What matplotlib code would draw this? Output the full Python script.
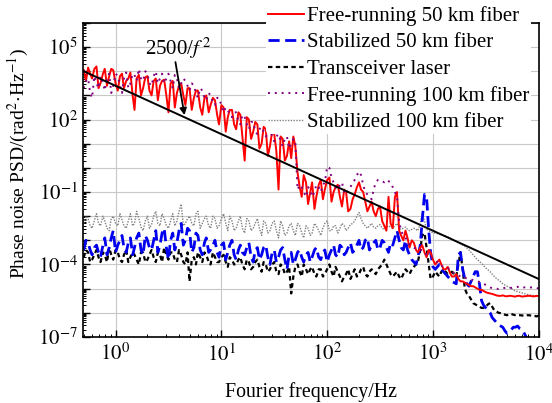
import numpy as np
import matplotlib
matplotlib.use("Agg")
import matplotlib.pyplot as plt
from matplotlib.ticker import FixedLocator, FuncFormatter, LogLocator, NullFormatter

plt.rcParams['font.family'] = ['Liberation Serif', 'DejaVu Serif']
plt.rcParams['mathtext.fontset'] = 'stix'

# Sampled Fourier frequencies (Hz)
freq = [0.50, 0.55, 0.60, 0.66, 0.72, 0.79, 0.87, 0.95, 1.05, 1.15,
        1.26, 1.38, 1.51, 1.66, 1.82, 2.0, 2.19, 2.4, 2.63, 2.88,
        3.16, 3.47, 3.8, 4.17, 4.57, 5.0, 5.5, 6.0, 6.6, 7.2,
        7.9, 8.7, 9.5, 10.5, 11.5, 12.6, 13.8, 15.1, 16.6, 18.2,
        20, 21.9, 24, 26.3, 28.8, 31.6, 34.7, 38, 41.7, 45.7,
        50, 55, 60, 66, 72, 79, 87, 95, 105, 115,
        126, 138, 151, 166, 182, 200, 219, 240, 263, 288,
        316, 347, 380, 417, 457, 500, 550, 600, 660, 720,
        790, 870, 950, 1050, 1150, 1260, 1380, 1510, 1660, 1820,
        2000, 2190, 2400, 2630, 2880, 3160, 3470, 3800, 4170, 4570,
        5000, 5500, 6000, 6600, 7200, 7900, 8700, 9500, 10000]

freq_mid = [0.525, 0.575, 0.63, 0.69, 0.76, 0.83, 0.91, 1.0, 1.10, 1.20,
            1.32, 1.45, 1.58, 1.74, 1.91, 2.09, 2.29, 2.51, 2.75, 3.02,
            3.31, 3.63, 3.98, 4.37, 4.79, 5.25, 5.75, 6.31, 6.92, 7.59,
            8.32, 9.12, 10.0, 11.0, 12.0, 13.2, 14.5, 15.8, 17.4, 19.1,
            20.9, 22.9, 25.1, 27.5, 30.2, 33.1, 36.3, 39.8, 43.7, 47.9,
            52.5, 57.5, 63.1, 69.2, 75.9, 83.2, 91.2, 100, 110, 120,
            132, 145, 158, 174, 191, 209, 229, 251, 275, 302,
            331, 363, 398, 437, 479, 525, 575, 631, 692, 759,
            832, 912, 1000, 1100, 1200, 1320, 1450, 1580, 1740, 1910,
            2090, 2290, 2510, 2750, 3020, 3310, 3630, 3980, 4370, 4790,
            5250, 5750, 6310, 6920, 7590, 8320, 9120]

# log10 of PSD values (rad^2/Hz)
free50_exp = [4.05, 4.15, 3.7, 4.2, 3.5, 4.1, 3.8, 4.05, 3.2, 3.9,
              3.6, 3.95, 2.4, 3.85, 3.3, 3.8, 3.0, 3.7, 3.4, 3.65,
              2.3, 3.6, 3.1, 3.5, 2.6, 3.3, 2.9, 3.2, 2.2, 3.0,
              2.6, 2.8, 1.8, 2.5, 2.1, 2.4, 1.6, 2.2, 0.3, 2.0,
              1.5, 1.8, 1.0, 1.6, 0.9, 1.4, -0.9, 1.2, 0.5, 0.4,
              0.9, -0.8, -0.3, -1.5, -0.6, -1.2, -0.5, -0.9, -0.4, -1.0,
              -0.7, -1.6, -1.0, -1.7, -1.1, -0.6, -1.0, -1.8, -1.4, -2.0,
              -1.6, -2.4, -1.2, -2.5, -1.0, -2.8, -2.6, -3.3, -3.1, -3.5,
              -3.2, -3.7, -3.5, -4.0, -3.8, -4.2, -4.1, -4.5, -4.4, -4.7,
              -4.75, -4.85, -4.9, -5.0, -5.05, -5.15, -5.2, -5.25, -5.3, -5.28,
              -5.32, -5.3, -5.33, -5.3, -5.32, -5.3, -5.32, -5.3, -5.31]
free50_mid = [3.6, 3.9, 4.1, 3.3, 3.9, 3.4, 4.1, 3.5, 3.8, 3.3,
              3.7, 3.0, 3.7, 3.0, 3.75, 3.2, 3.6, 2.8, 3.6, 3.0,
              3.5, 2.5, 3.4, 3.0, 3.3, 2.4, 3.2, 2.5, 2.9, 2.3,
              2.9, 2.2, 2.6, 1.5, 2.4, 1.8, 2.3, 1.3, 2.1, 1.2,
              1.9, 0.8, 1.7, 0.5, 1.5, 0.7, 1.3, 0.3, 1.1, 1.3,
              -0.2, -1.2, -0.6, -1.0, -1.7, -0.7, -1.3, -0.5, -1.4, -0.8,
              -1.2, -0.9, -1.8, -1.3, -0.8, -0.9, -1.4, -1.6, -1.8, -1.7,
              -2.2, -2.6, -2.3, -1.2, -2.6, -3.0, -2.9, -3.0, -3.4, -3.3,
              -3.5, -3.4, -3.8, -3.9, -4.0, -4.2, -4.35, -4.5, -4.6, -4.7,
              -4.8, -4.9, -4.95, -5.05, -5.1, -5.18, -5.22, -5.28, -5.3, -5.31,
              -5.3, -5.32, -5.3, -5.33, -5.31, -5.3, -5.32]

stab50_exp = [-3.4, -3.1, -3.6, -3.2, -3.7, -2.9, -3.3, -2.6, -3.2, -2.8,
              -3.5, -2.9, -3.3, -2.7, -3.6, -3.0, -3.4, -2.6, -3.2, -2.5,
              -3.8, -2.7, -3.1, -2.3, -3.0, -2.6, -3.3, -2.8, -3.6, -2.9,
              -3.4, -3.0, -3.7, -3.1, -3.5, -3.0, -3.8, -3.2, -3.6, -3.1,
              -3.9, -3.3, -3.6, -3.2, -4.0, -3.4, -3.7, -3.3, -4.2, -3.5,
              -3.8, -3.4, -3.9, -3.5, -3.7, -3.3, -3.8, -3.4, -3.6, -3.2,
              -3.7, -3.3, -3.5, -3.1, -3.4, -3.0, -3.3, -2.9, -3.2, -3.0,
              -3.3, -3.1, -3.5, -3.2, -2.6, -3.3, -3.0, -3.6, -3.9, -3.7,
              -2.2, -1.2, -3.5, -4.2, -4.0, -4.3, -4.5, -4.7, -4.8, -3.5,
              -4.6, -4.9, -4.5, -4.3, -5.5, -5.8, -6.0, -6.3, -6.5, -6.6,
              -6.85, -6.7, -6.6, -6.65, -6.8, -7.2, -7.5, -7.6, -7.7]
stab50_mid = [-3.0, -3.4, -3.3, -3.5, -3.2, -3.6, -2.9, -3.5, -3.0, -3.3,
              -3.1, -3.6, -2.9, -3.4, -2.8, -3.3, -3.0, -3.5, -2.7, -3.3,
              -3.0, -3.4, -2.6, -3.2, -2.5, -3.5, -2.7, -3.4, -3.1, -3.5,
              -3.2, -3.5, -3.2, -3.8, -3.2, -3.6, -3.4, -3.5, -3.3, -3.7,
              -3.4, -3.8, -3.3, -3.7, -3.5, -3.9, -3.4, -3.8, -3.6, -4.0,
              -3.5, -3.7, -3.6, -3.9, -3.4, -3.7, -3.5, -3.9, -3.4, -3.6,
              -3.2, -3.6, -3.3, -3.5, -3.2, -3.4, -3.0, -3.4, -3.1, -3.4,
              -3.0, -3.3, -3.1, -2.9, -3.0, -3.4, -3.4, -3.8, -4.0, -3.2,
              -1.1, -2.6, -4.1, -4.1, -4.2, -4.4, -4.6, -4.75, -3.6, -4.2,
              -4.8, -4.7, -4.3, -4.8, -5.7, -5.9, -6.2, -6.4, -6.55, -6.75,
              -6.8, -6.6, -6.55, -6.7, -7.0, -7.4, -7.6]

laser_exp = [-3.7, -3.5, -3.8, -3.4, -3.9, -3.6, -3.3, -3.8, -3.5, -3.9,
             -3.4, -3.7, -3.6, -4.0, -3.5, -3.8, -3.4, -3.9, -3.6, -3.3,
             -3.8, -3.5, -3.9, -3.6, -4.0, -4.7, -3.7, -3.5, -3.9, -3.6,
             -4.0, -3.7, -3.9, -3.6, -4.1, -3.8, -4.0, -3.7, -4.2, -3.9,
             -4.1, -3.8, -4.3, -4.0, -4.2, -3.9, -4.4, -4.1, -4.3, -5.2,
             -4.1, -4.3, -4.0, -4.4, -4.1, -4.5, -4.2, -4.4, -4.0, -4.5,
             -4.3, -4.7, -4.4, -4.6, -4.2, -4.4, -4.1, -4.5, -4.2, -4.4,
             -4.1, -3.8, -4.2, -4.5, -4.3, -4.6, -4.2, -4.4, -4.1, -3.9,
             -2.8, -3.3, -4.6, -4.3, -4.5, -4.2, -4.4, -4.3, -4.5, -3.5,
             -5.0, -5.3, -5.6, -5.7, -5.8, -5.75, -5.6, -5.9, -6.0, -6.05,
             -6.1, -6.05, -6.1, -6.1, -6.12, -6.1, -6.12, -6.15, -6.12]
laser_mid = [-3.4, -3.9, -3.6, -3.7, -3.5, -3.9, -3.6, -3.4, -3.8, -3.6,
             -3.9, -3.5, -3.8, -3.5, -3.9, -3.6, -3.7, -3.5, -3.9, -3.6,
             -3.5, -3.8, -3.4, -3.9, -3.5, -3.8, -4.0, -3.7, -3.5, -3.9,
             -3.5, -3.9, -3.7, -3.9, -3.7, -4.0, -3.8, -4.0, -3.8, -4.2,
             -3.9, -4.1, -3.9, -4.3, -4.0, -4.3, -4.0, -4.4, -4.1, -4.5,
             -4.0, -4.5, -4.2, -4.2, -4.4, -4.2, -4.5, -4.2, -4.3, -4.1,
             -4.5, -4.5, -4.2, -4.4, -4.5, -4.2, -4.4, -4.3, -4.3, -4.2,
             -4.0, -4.0, -4.4, -4.4, -4.5, -4.4, -4.3, -4.2, -4.0, -3.4,
             -2.7, -4.0, -4.5, -4.4, -4.3, -4.3, -4.35, -4.4, -4.0, -4.2,
             -5.2, -5.45, -5.65, -5.75, -5.8, -5.65, -5.75, -5.95, -6.02, -6.08,
             -6.08, -6.08, -6.1, -6.11, -6.11, -6.11, -6.13]

free100_exp = [3.3, 3.7, 2.9, 3.5, 3.8, 3.2, 3.9, 3.4, 3.8, 3.1,
               3.95, 3.5, 3.85, 4.1, 3.6, 3.9, 3.4, 4.0, 3.7, 3.5,
               3.9, 3.3, 3.7, 3.5, 3.6, 3.2, 3.4, 2.9, 3.2, 2.8,
               3.0, 2.6, 2.9, 2.3, 2.4, 2.1, 2.3, 1.8, 2.1, 1.6,
               1.9, 1.4, 1.7, 1.3, 1.6, 1.1, 1.4, 0.9, 1.3, 1.0,
               1.1, -0.7, -1.0, -0.8, -1.2, -0.7, -1.0, -0.6, 0.0, -0.6,
               -0.9, -0.6, -1.1, -0.8, -0.5, -0.15, -0.7, -1.1, -1.3, -0.6,
               -0.5, -0.6, -0.55, -0.8, -1.2, -2.6, -2.9, -3.2, -3.3, -3.4,
               -3.4, -3.6, -3.7, -3.8, -4.0, -4.1, -4.15, -4.3, -4.4, -4.5,
               -4.55, -4.6, -4.65, -4.7, -4.75, -4.85, -4.95, -5.0, -5.02, -4.98,
               -4.95, -4.97, -4.95, -4.9, -4.95, -4.93, -4.95, -4.97, -5.0]
free100_mid = [3.6, 3.1, 3.8, 3.3, 3.5, 3.7, 3.1, 3.9, 3.4, 3.7,
               3.3, 3.9, 3.6, 3.7, 4.0, 3.5, 3.8, 3.5, 3.9, 3.7,
               3.6, 3.85, 3.3, 3.7, 3.4, 3.5, 3.1, 3.3, 2.9, 3.1,
               2.7, 2.9, 2.6, 2.5, 2.2, 2.3, 1.9, 2.2, 1.8, 1.9,
               1.5, 1.6, 1.5, 1.4, 1.3, 1.3, 1.1, 1.2, 0.8, 1.2,
               -0.9, -0.8, -1.2, -0.9, -1.0, -0.8, -0.7, 0.05, -0.4, -0.8,
               -0.7, -1.0, -0.9, -0.6, -0.3, -0.3, -1.0, -1.2, -0.9, -0.5,
               -0.55, -0.5, -0.6, -1.0, -2.2, -2.8, -3.0, -3.25, -3.35, -3.4,
               -3.5, -3.65, -3.75, -3.9, -4.05, -4.1, -4.2, -4.35, -4.45, -4.5,
               -4.58, -4.62, -4.68, -4.72, -4.8, -4.9, -4.98, -5.0, -5.0, -4.97,
               -4.96, -4.96, -4.93, -4.92, -4.94, -4.95, -4.96]

stab100_exp = [-2.3, -2.1, -2.5, -1.9, -2.4, -2.2, -2.6, -2.0, -2.4, -2.15,
               -2.5, -1.9, -2.3, -2.1, -2.6, -2.0, -2.35, -1.8, -2.4, -2.1,
               -2.5, -1.9, -2.2, -1.5, -2.3, -2.0, -2.4, -1.8, -2.3, -2.0,
               -2.5, -2.1, -2.4, -1.9, -2.6, -2.2, -2.5, -2.0, -2.7, -2.2,
               -2.5, -2.1, -2.8, -2.3, -2.6, -2.2, -2.9, -2.4, -2.7, -2.3,
               -2.8, -2.4, -2.9, -2.5, -2.7, -2.4, -2.8, -2.3, -2.6, -2.4,
               -2.7, -2.3, -2.6, -2.35, -2.2, -1.85, -2.3, -2.5, -2.3, -2.5,
               -2.35, -2.55, -2.4, -2.5, -2.3, -2.55, -2.45, -2.6, -2.5, -2.6,
               -1.9, -2.55, -2.65, -2.7, -2.75, -2.8, -2.85, -2.95, -3.05, -3.15,
               -3.25, -3.4, -3.6, -3.8, -3.95, -4.15, -4.3, -4.5, -4.65, -4.8,
               -4.9, -5.0, -5.1, -5.15, -5.2, -5.25, -5.28, -5.3, -5.3]
stab100_mid = [-2.0, -2.4, -2.2, -2.3, -2.0, -2.5, -2.1, -2.3, -1.9, -2.4,
               -2.2, -2.4, -1.8, -2.45, -2.2, -2.5, -2.0, -2.3, -1.9, -2.4,
               -2.2, -2.4, -1.8, -2.4, -2.1, -2.3, -1.9, -2.5, -2.1, -2.4,
               -2.0, -2.5, -2.1, -2.3, -2.0, -2.6, -2.2, -2.5, -2.1, -2.6,
               -2.3, -2.5, -2.2, -2.7, -2.3, -2.6, -2.2, -2.8, -2.4, -2.6,
               -2.3, -2.7, -2.4, -2.8, -2.3, -2.6, -2.5, -2.2, -2.6, -2.4,
               -2.5, -2.4, -2.5, -2.3, -2.0, -2.1, -2.4, -2.4, -2.45, -2.4,
               -2.5, -2.45, -2.45, -2.4, -2.5, -2.5, -2.55, -2.55, -2.55, -2.3,
               -2.2, -2.6, -2.68, -2.72, -2.78, -2.82, -2.9, -3.0, -3.1, -3.2,
               -3.32, -3.5, -3.7, -3.88, -4.05, -4.22, -4.4, -4.58, -4.72, -4.85,
               -4.95, -5.05, -5.12, -5.18, -5.22, -5.27, -5.29]

# 2500/f^2 reference line endpoints
ref_f = [0.5, 10000]
ref_v = [1.0e4, 2.5e-5]

labels = ['Free-running 50 km fiber', 'Stabilized 50 km fiber', 'Transceiver laser',
          'Free-running 100 km fiber', 'Stabilized 100 km fiber']

f_all = np.array(freq + freq_mid)
order = np.argsort(f_all)
f_sorted = f_all[order]

def series(main, mid):
    return 10 ** np.array(main + mid)[order]

fig = plt.figure(figsize=(5.52, 4.03), dpi=100)
ax = fig.add_axes([0.150, 0.164, 0.826, 0.779])

h5, = ax.plot(f_sorted, series(stab100_exp, stab100_mid), color='#808080', lw=1.0, ls=(0, (1, 1)))
h3, = ax.plot(f_sorted, series(laser_exp, laser_mid), color='black', lw=1.6, ls=(0, (2, 1.5)))
h2, = ax.plot(f_sorted, series(stab50_exp, stab50_mid), color='#0000ee', lw=2.0, ls=(0, (4, 2)))
h1, = ax.plot(f_sorted, series(free50_exp, free50_mid), color='#ff0000', lw=1.4)
h4, = ax.plot(f_sorted, series(free100_exp, free100_mid), color='#800080', lw=1.4, ls=(0, (1, 2.5)))
ax.plot(ref_f, ref_v, color='black', lw=1.4)

ax.set_xscale('log')
ax.set_yscale('log')
ax.set_xlim(0.49, 10000)
ax.set_ylim(1e-7, 1e6)

ax.xaxis.set_major_locator(FixedLocator([1, 10, 100, 1000, 10000]))
ax.xaxis.set_major_formatter(FuncFormatter(lambda v, p: r'$10^{%d}$' % round(np.log10(v))))
ax.xaxis.set_minor_locator(LogLocator(base=10, subs=np.arange(2, 10), numticks=20))
ax.xaxis.set_minor_formatter(NullFormatter())

ydec = [10.0 ** k for k in range(-7, 7)]
ax.yaxis.set_major_locator(FixedLocator(ydec))
shown = {5, 2, -1, -4, -7}
def yfmt(v, p):
    k = int(round(np.log10(v)))
    return r'$10^{%d}$' % k if k in shown else ''
ax.yaxis.set_major_formatter(FuncFormatter(yfmt))
ax.yaxis.set_minor_locator(LogLocator(base=10, subs=np.arange(2, 10), numticks=30))
ax.yaxis.set_minor_formatter(NullFormatter())

ax.tick_params(which='both', direction='in', top=False, right=False, labelsize=15)
ax.tick_params(which='major', length=5, width=1.0)
ax.tick_params(which='minor', length=2.5, width=0.7)
ax.tick_params(axis='x', which='major', pad=5)
ax.grid(True, which='major', color='#c8c8c8', lw=0.8)
ax.set_axisbelow(True)
for s in ax.spines.values():
    s.set_linewidth(1.2)

ax.set_xlabel('Fourier frequency/Hz', fontsize=14.3, labelpad=12)
ax.set_ylabel(r'Phase noise PSD/(rad$^{2}\!\cdot\!$Hz$^{-1}$)', fontsize=14)
ax.yaxis.set_label_coords(-0.114, 0.554)

ax.text(3.9, 10 ** 4.95, r'2500/$f^{\,2}$', fontsize=15, ha='center', va='center')
ax.annotate('', xy=(4.48, 10 ** 2.18), xytext=(3.68, 10 ** 4.38),
            arrowprops=dict(arrowstyle='-|>', color='black', lw=1.3, shrinkA=0, shrinkB=0,
                            mutation_scale=10))

leg = fig.legend([h1, h2, h3, h4, h5], labels, loc='upper right',
                 bbox_to_anchor=(0.962, 0.99), fontsize=15, frameon=True,
                 handlelength=1.75, handletextpad=0.12, labelspacing=0.33,
                 borderpad=0.1, borderaxespad=0.0)
leg.get_frame().set_facecolor('white')
leg.get_frame().set_edgecolor('none')
leg.get_frame().set_alpha(1.0)

fig.savefig('out.png', dpi=100)
